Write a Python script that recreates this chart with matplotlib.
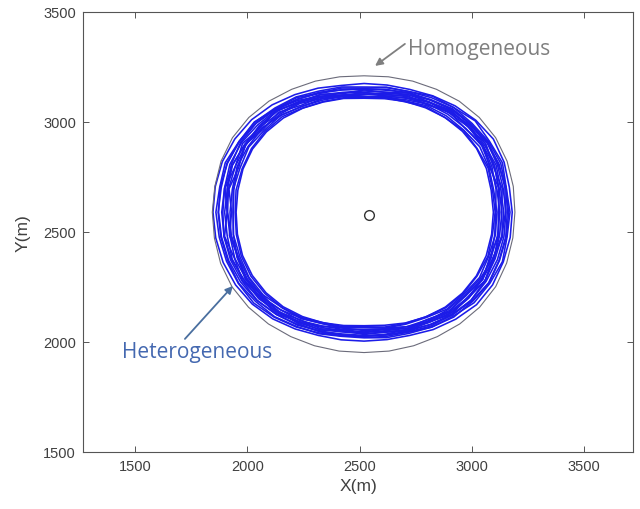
import numpy as np
import matplotlib.pyplot as plt
from matplotlib.patches import Polygon

# ring centre of the trajectories and the reference point (data units, m)
ring_center = (2520, 2590)
ref_point_x = [2540]
ref_point_y = [2577]

angles_deg = list(range(0, 360, 10))

# mean radius of the ring at each angle
ring_radius = [620, 621, 622, 619, 610, 597, 581, 566, 555, 550, 555, 566, 581, 597, 610, 619, 622, 621,
               620, 621, 622, 619, 610, 597, 581, 566, 555, 550, 555, 566, 581, 597, 610, 619, 622, 621]

# heterogeneous run: deviation of each loop from the mean radius
hetero_offsets = [
    [-44, -46, -42, -40, -38, -35, -33, -30, -31, -32, -30, -33, -35, -38, -42, -45, -48, -50,
     -50, -48, -46, -44, -40, -36, -33, -31, -32, -34, -33, -30, -31, -34, -38, -41, -43, -44],
    [-28, -35, -30, -24, -30, -26, -22, -28, -20, -25, -22, -18, -26, -21, -30, -26, -34, -29,
     -36, -30, -33, -27, -24, -30, -22, -28, -21, -26, -20, -24, -28, -22, -30, -25, -32, -27],
    [-15, -20, -22, -14, -18, -16, -12, -15, -18, -12, -14, -16, -10, -15, -18, -22, -20, -25,
     -23, -19, -22, -17, -14, -18, -12, -16, -14, -18, -15, -12, -16, -11, -18, -14, -20, -17],
    [-6, -10, -4, -9, -5, -8, -3, -7, -10, -6, -4, -8, -5, -9, -6, -10, -12, -8,
     -11, -14, -9, -12, -6, -8, -4, -9, -6, -3, -8, -5, -9, -4, -7, -10, -6, -8],
    [2, -3, 4, -2, 3, 0, -2, 3, -1, 1, -2, 2, 0, 3, -1, -4, 2, -3,
     1, -2, 3, -1, 2, -3, 0, 2, -2, 1, -1, 3, -2, 1, -3, 2, -1, 3],
    [12, 8, 10, 14, 9, 11, 7, 10, 12, 8, 11, 9, 13, 10, 8, 12, 14, 10,
     9, 13, 11, 8, 12, 10, 9, 11, 7, 10, 12, 9, 8, 11, 13, 9, 10, 12],
    [24, 20, 26, 22, 18, 24, 20, 17, 22, 19, 23, 20, 24, 21, 26, 22, 28, 25,
     30, 27, 24, 26, 21, 23, 19, 22, 18, 21, 24, 20, 22, 25, 21, 24, 20, 23],
    [40, 36, 42, 46, 40, 34, 30, 28, 32, 35, 30, 34, 36, 40, 44, 46, 50, 52,
     53, 50, 46, 42, 40, 36, 32, 30, 34, 36, 33, 30, 35, 38, 44, 42, 38, 40],
    [-20, -12, -4, 5, 12, 15, 10, 2, -6, -14, -20, -24, -26, -22, -15, -6, 3, 10,
     14, 12, 6, -2, -10, -18, -24, -26, -20, -12, -4, 4, 10, 14, 12, 4, -6, -14],
    [10, 16, 18, 14, 6, -4, -14, -22, -26, -22, -14, -4, 6, 14, 18, 16, 8, -2,
     -12, -20, -26, -24, -16, -6, 4, 12, 16, 14, 8, 0, -10, -18, -24, -20, -10, 2],
    [-36, -40, -34, -38, -32, -36, -28, -32, -26, -30, -27, -31, -34, -30, -36, -40, -44, -42,
     -46, -43, -40, -37, -34, -30, -28, -32, -26, -29, -25, -28, -32, -30, -34, -38, -35, -40],
    [18, 22, 14, 18, 12, 16, 10, 13, 8, 12, 9, 14, 11, 16, 20, 24, 26, 30,
     28, 24, 20, 16, 14, 10, 12, 8, 11, 14, 10, 13, 16, 12, 18, 22, 18, 20],
    [-8, 4, -10, 6, -6, 8, -4, 10, -2, 6, -8, 4, -6, 8, -10, 6, -12, 8,
     -10, 10, -8, 6, -4, 8, -6, 4, -8, 6, -2, 8, -6, 10, -8, 4, -12, 6],
    [-22, -10, -26, -8, -20, -4, -18, -2, -14, -6, -16, -8, -20, -4, -24, -6, -28, -10,
     -30, -12, -26, -8, -22, -4, -16, -2, -12, -6, -14, -4, -18, -6, -22, -8, -26, -12],
    [30, 22, 34, 26, 36, 24, 28, 18, 20, 14, 18, 12, 20, 16, 28, 24, 36, 32,
     40, 34, 30, 28, 32, 26, 22, 18, 16, 12, 18, 14, 22, 20, 30, 28, 34, 26],
    [-34, -24, -16, -8, -2, 4, -4, -12, -20, -26, -18, -10, -2, 6, 0, -10, -22, -32,
     -38, -30, -20, -12, -4, 2, -6, -14, -22, -28, -20, -12, -4, 4, -2, -10, -20, -30],
]

# homogeneous run: one thin loop just outside the band
homo_offset = [52, 54, 56, 58, 60, 62, 64, 68, 70, 70, 70, 68, 64, 62, 60, 58, 56, 54,
               56, 56, 58, 60, 62, 66, 72, 80, 86, 88, 86, 80, 72, 66, 62, 58, 54, 52]

x_ticks = [1500, 2000, 2500, 3000, 3500]
y_ticks = [1500, 2000, 2500, 3000, 3500]


def loop_xy(offsets):
    th = np.deg2rad(angles_deg)
    r = np.array(ring_radius, dtype=float) + np.array(offsets, dtype=float)
    return np.column_stack([ring_center[0] + r * np.cos(th), ring_center[1] + r * np.sin(th)])


plt.rcParams["font.family"] = ["Liberation Sans", "DejaVu Sans"]

fig = plt.figure(figsize=(6.4, 5.1), dpi=100)
ax = fig.add_axes([83 / 640, 57 / 510, 550 / 640, 440 / 510])

for off in hetero_offsets:
    ax.add_patch(Polygon(loop_xy(off), closed=True, fill=False,
                         edgecolor="#1c1ce8", linewidth=1.15, joinstyle="round"))

ax.add_patch(Polygon(loop_xy(homo_offset), closed=True, fill=False,
                     edgecolor="#6b6b7a", linewidth=0.8, joinstyle="round"))

ax.plot(ref_point_x, ref_point_y, "o", mfc="none", mec="#333333", ms=7, mew=1.0)

ax.set_xlim(1268, 3718)
ax.set_ylim(1500, 3500)
ax.set_xticks(x_ticks)
ax.set_yticks(y_ticks)
ax.tick_params(direction="in", length=4, width=0.7, colors="#555555",
               labelcolor="#404040", labelsize=10.5, pad=5, top=True, right=True)
for s in ax.spines.values():
    s.set_color("#555555")
    s.set_linewidth(0.8)

ax.set_xlabel("X(m)", fontsize=12.5, color="#404040", labelpad=4)
ax.set_ylabel("Y(m)", fontsize=12.5, color="#404040", labelpad=9)

# annotation arrows (tail -> head) and their labels
ax.annotate("", xy=(2569, 3255), xytext=(2702, 3355),
            arrowprops=dict(arrowstyle="-|>", color="#7f7f7f", lw=1.3,
                            mutation_scale=11, shrinkA=0, shrinkB=0))
ax.text(2716, 3332, "Homogeneous", fontsize=15, color="#7f7f7f",
        family=["Open Sans", "DejaVu Sans"], ha="left", va="center")

ax.annotate("", xy=(1936, 2255), xytext=(1722, 2014),
            arrowprops=dict(arrowstyle="-|>", color="#4a6f9f", lw=1.3,
                            mutation_scale=11, shrinkA=0, shrinkB=0))
ax.text(1776, 1959, "Heterogeneous", fontsize=15, color="#4468b0",
        family=["Open Sans", "DejaVu Sans"], ha="center", va="center")

fig.savefig("out.png", dpi=100, facecolor="white")
